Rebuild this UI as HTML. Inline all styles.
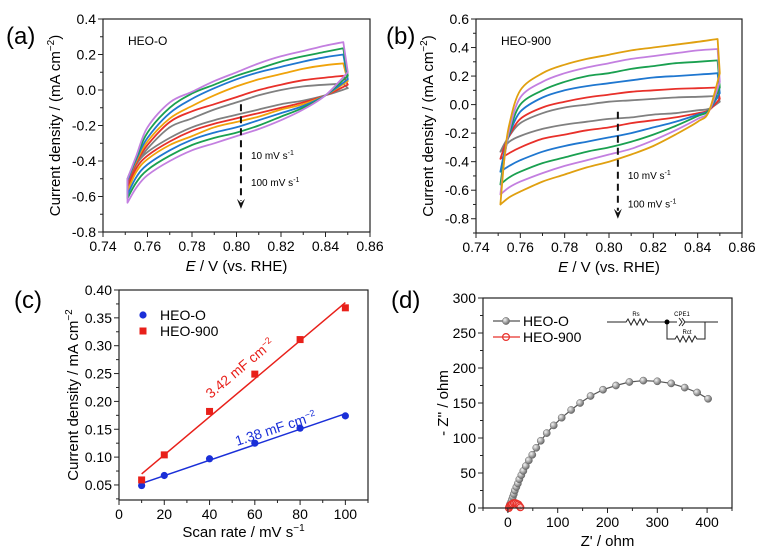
<!DOCTYPE html>
<html><head><meta charset="utf-8">
<style>
body{margin:0;background:#fff;}
svg{display:block;font-family:"Liberation Sans",Arial,sans-serif;}
</style></head>
<body>
<svg id="fig" width="761" height="554" viewBox="0 0 761 554" xmlns="http://www.w3.org/2000/svg"></svg>
<script>
// ---------- Panel (a) data ----------
const aColors = ['#808080','#e8302a','#f0a30a','#1f77d0','#1aa050','#c37fe0'];
const aUpE = [0.751,0.755,0.76,0.77,0.78,0.79,0.80,0.81,0.82,0.83,0.84,0.848];
const aUp0 = [-0.52,-0.42,-0.33,-0.21,-0.16,-0.11,-0.07,-0.03,0.0,0.02,0.03,0.035];
const aUp1 = [-0.52,-0.41,-0.31,-0.18,-0.12,-0.08,-0.04,0.0,0.03,0.055,0.07,0.08];
const aUp2 = [-0.51,-0.40,-0.29,-0.16,-0.09,-0.03,0.02,0.06,0.09,0.12,0.14,0.15];
const aUp3 = [-0.51,-0.39,-0.27,-0.13,-0.05,0.01,0.06,0.10,0.13,0.16,0.185,0.20];
const aUp4 = [-0.50,-0.38,-0.24,-0.10,-0.02,0.03,0.08,0.12,0.16,0.19,0.215,0.235];
const aUp5 = [-0.50,-0.37,-0.21,-0.07,-0.01,0.05,0.10,0.15,0.19,0.22,0.25,0.27];
const aLoE = [0.85,0.84,0.83,0.82,0.81,0.80,0.79,0.78,0.77,0.76,0.755,0.751];
const aLo0 = [0.01,-0.03,-0.06,-0.08,-0.11,-0.14,-0.17,-0.21,-0.27,-0.35,-0.42,-0.53];
const aLo1 = [0.03,-0.03,-0.07,-0.10,-0.13,-0.16,-0.19,-0.23,-0.29,-0.37,-0.44,-0.55];
const aLo2 = [0.05,-0.03,-0.08,-0.11,-0.15,-0.18,-0.21,-0.26,-0.31,-0.39,-0.46,-0.57];
const aLo3 = [0.06,-0.03,-0.09,-0.13,-0.17,-0.21,-0.24,-0.28,-0.34,-0.42,-0.49,-0.59];
const aLo4 = [0.08,-0.03,-0.10,-0.15,-0.20,-0.24,-0.27,-0.31,-0.37,-0.45,-0.52,-0.61];
const aLo5 = [0.10,-0.03,-0.11,-0.17,-0.22,-0.26,-0.30,-0.34,-0.40,-0.48,-0.55,-0.635];
const aYTicks = ['0.4','0.2','0.0','-0.2','-0.4','-0.6','-0.8'];
const cvXTicks = ['0.74','0.76','0.78','0.80','0.82','0.84','0.86'];
// ---------- Panel (b) data ----------
const bColors = ['#808080','#e8302a','#1f77d0','#1aa050','#c37fe0','#e0a010'];
const bUpE = [0.751,0.753,0.755,0.76,0.77,0.78,0.79,0.80,0.81,0.82,0.83,0.84,0.849];
const bUp0 = [-0.33,-0.27,-0.22,-0.13,-0.06,-0.02,0.0,0.02,0.03,0.04,0.05,0.055,0.06];
const bUp1 = [-0.38,-0.29,-0.22,-0.10,-0.02,0.02,0.05,0.07,0.09,0.10,0.11,0.115,0.12];
const bUp2 = [-0.47,-0.32,-0.21,-0.05,0.05,0.10,0.13,0.15,0.17,0.19,0.20,0.21,0.22];
const bUp3 = [-0.56,-0.35,-0.20,0.0,0.10,0.16,0.20,0.22,0.25,0.27,0.29,0.30,0.31];
const bUp4 = [-0.63,-0.36,-0.18,0.05,0.16,0.22,0.26,0.29,0.32,0.34,0.36,0.38,0.39];
const bUp5 = [-0.70,-0.35,-0.14,0.10,0.22,0.28,0.32,0.35,0.38,0.40,0.42,0.44,0.46];
const bLoE = [0.85,0.845,0.84,0.83,0.82,0.81,0.80,0.79,0.78,0.77,0.76,0.755,0.751];
const bLo0 = [0.02,-0.03,-0.04,-0.06,-0.07,-0.09,-0.10,-0.12,-0.14,-0.17,-0.22,-0.26,-0.33];
const bLo1 = [0.04,-0.04,-0.06,-0.09,-0.11,-0.13,-0.16,-0.18,-0.21,-0.24,-0.30,-0.34,-0.38];
const bLo2 = [0.08,-0.04,-0.07,-0.12,-0.16,-0.20,-0.23,-0.26,-0.29,-0.33,-0.39,-0.43,-0.47];
const bLo3 = [0.12,-0.04,-0.08,-0.15,-0.21,-0.26,-0.30,-0.33,-0.37,-0.41,-0.47,-0.51,-0.56];
const bLo4 = [0.16,-0.05,-0.10,-0.18,-0.25,-0.31,-0.35,-0.39,-0.43,-0.48,-0.54,-0.58,-0.63];
const bLo5 = [0.22,-0.05,-0.12,-0.21,-0.29,-0.35,-0.40,-0.44,-0.49,-0.54,-0.61,-0.65,-0.70];
const bYTicks = ['0.6','0.4','0.2','0.0','-0.2','-0.4','-0.6','-0.8'];
// ---------- Panel (c) data ----------
const cRates = [10,20,40,60,80,100];
const cHEOO = [0.049,0.067,0.097,0.125,0.152,0.174];
const cHEO900 = [0.059,0.104,0.182,0.249,0.311,0.368];
const cYTicks = ['0.40','0.35','0.30','0.25','0.20','0.15','0.10','0.05'];
const cXTicks = ['0','20','40','60','80','100'];
// ---------- Panel (d) data ----------
const dOx = [3,4,6,8,10,12,14,17,20,23,27,31,36,42,49,57,66,78,92,108,127,145,166,191,217,244,272,300,328,355,380,402];
const dOy = [2,5,8,12,16,20,25,30,35,41,47,53,60,68,76,86,96,107,118,129,140,150,160,169,175,180,182,181,178,172,165,156];
const d9x = [2,3,5,7,9,12,15,18,21,23,25];
const d9y = [0,2,4,5,6,7,7,6,5,3,1];
const dYTicks = ['0','50','100','150','200','250','300'];
const dXTicks = ['0','100','200','300','400'];

const NS='http://www.w3.org/2000/svg';
const svg=document.getElementById('fig');
function mk(tag,attrs,parent){const e=document.createElementNS(NS,tag);for(const k in attrs)e.setAttribute(k,attrs[k]);(parent||svg).appendChild(e);return e;}
function txt(s,x,y,size,anchor,parent,fill){const t=mk('text',{x:x,y:y,'font-size':size,'text-anchor':anchor||'start',fill:fill||'#000'},parent);t.textContent=s;return t;}
function lin(d0,d1,p0,p1){return v=>p0+(v-d0)/(d1-d0)*(p1-p0);}
function smooth(pts){
  let d='M'+pts[0][0].toFixed(1)+','+pts[0][1].toFixed(1);
  for(let i=0;i<pts.length-1;i++){
    const p0=pts[Math.max(0,i-1)],p1=pts[i],p2=pts[i+1],p3=pts[Math.min(pts.length-1,i+2)];
    const c1=[p1[0]+(p2[0]-p0[0])/6,p1[1]+(p2[1]-p0[1])/6],c2=[p2[0]-(p3[0]-p1[0])/6,p2[1]-(p3[1]-p1[1])/6];
    d+=`C${c1[0].toFixed(1)},${c1[1].toFixed(1)} ${c2[0].toFixed(1)},${c2[1].toFixed(1)} ${p2[0].toFixed(1)},${p2[1].toFixed(1)}`;
  }
  return d;
}

function frame(g,L,T,R,B){
  const r=mk('rect',{x:L,y:T,width:R-L,height:B-T,fill:'none',stroke:'#222','stroke-width':1.2},g);
  
}
function yTicks(g,labels,sy,T,B,L,minor){
  labels.forEach(s=>{const v=parseFloat(s),y=sy(v);
    const t=mk('line',{x1:L-5,x2:L,y1:y,y2:y,stroke:'#222','stroke-width':1},g);
    
    const l=txt(s,L-7,y+5,14,'end',g);
    const ym=sy(v-minor);if(ym<=B+0.5&&ym>=T-0.5)mk('line',{x1:L-3,x2:L,y1:ym,y2:ym,stroke:'#222','stroke-width':1},g);
  });
}
function xTicks(g,labels,sx,L,R,B,minor,labY){
  labels.forEach(s=>{const v=parseFloat(s),x=sx(v);
    const t=mk('line',{x1:x,x2:x,y1:B,y2:B+5,stroke:'#222','stroke-width':1},g);
    
    const l=txt(s,x,labY,14,'middle',g);
    const xm=sx(v+minor);if(xm<=R+0.5&&xm>=L-0.5)mk('line',{x1:xm,x2:xm,y1:B,y2:B+3,stroke:'#222','stroke-width':1},g);
  });
}
function cvPanel(id,L,T,R,B,y0,y1,yLabels,colors,upE,ups,loE,los,name,arrowX,arrTop,arrBot,t1,t2){
  const g=mk('g',{});  
  const sx=lin(0.74,0.86,L,R), sy=lin(y0,y1,T,B);
  colors.forEach((c,i)=>{
    const up=upE.map((e,j)=>[sx(e),sy(ups[i][j])]);
    const lo=loE.map((e,j)=>[sx(e),sy(los[i][j])]);
    let d=smooth(up)+'L'+lo[0][0].toFixed(1)+','+lo[0][1].toFixed(1)+smooth(lo).replace(/^M[^C]*/,'')+'Z';
    const p=mk('path',{d:d,fill:'none',stroke:c,'stroke-width':1.8,'stroke-linejoin':'round'},g);
    
  });
  frame(g,L,T,R,B);
  yTicks(g,yLabels,sy,T,B,L,0.1);
  xTicks(g,cvXTicks,sx,L,R,B,0.01,B+19);
  const ax=sx(arrowX);
  const ar=mk('line',{x1:ax,x2:ax,y1:sy(arrTop),y2:sy(arrBot)-8,stroke:'#111','stroke-width':2,'stroke-dasharray':'7,5'},g);
  
  mk('path',{d:`M${ax-4},${sy(arrBot)-10} L${ax},${sy(arrBot)} L${ax+4},${sy(arrBot)-10} L${ax},${sy(arrBot)-6}Z`,fill:'#111'},g);
  const a1=txt('',ax+10,sy(t1),10,'start',g);a1.innerHTML='10 mV s<tspan dy="-4" font-size="7">-1</tspan>';
  
  const a2=txt('',ax+10,sy(t2),10,'start',g);a2.innerHTML='100 mV s<tspan dy="-4" font-size="7">-1</tspan>';
  
  const nm=txt(name,L+25,T+26,12,'start',g);
  const xt=txt('',(L+R)/2,B+39,15,'middle',g);xt.innerHTML='<tspan font-style="italic">E</tspan> / V (vs. RHE)';
  
  const yt=txt('',0,0,15,'middle',g);yt.setAttribute('transform',`translate(${L-43},${(T+B)/2}) rotate(-90)`);
  yt.innerHTML='Current density / (mA cm<tspan dy="-6" font-size="10">−2</tspan><tspan dy="6">)</tspan>';
  
}
cvPanel('panel-a',103,19,370,232,0.4,-0.8,aYTicks,aColors,aUpE,[aUp0,aUp1,aUp2,aUp3,aUp4,aUp5],aLoE,[aLo0,aLo1,aLo2,aLo3,aLo4,aLo5],'HEO-O',0.802,-0.08,-0.67,-0.39,-0.54);
cvPanel('panel-b',476,19,742,233,0.6,-0.9,bYTicks,bColors,bUpE,[bUp0,bUp1,bUp2,bUp3,bUp4,bUp5],bLoE,[bLo0,bLo1,bLo2,bLo3,bLo4,bLo5],'HEO-900',0.804,-0.05,-0.80,-0.52,-0.72);

// panel labels
[['(a)',6,44],['(b)',386,44],['(c)',14,308],['(d)',391,308]].forEach(p=>{const t=txt(p[0],p[1],p[2],24,'start');});

// ---------- Panel (c) ----------
(function(){
  const L=119,T=290,R=368,B=500;
  const g=mk('g',{});
  const sx=lin(0,110,L,R), sy=lin(0.40,0.023,T,B);
  function fit(xs,ys){const n=xs.length,mx=xs.reduce((a,b)=>a+b)/n,my=ys.reduce((a,b)=>a+b)/n;let sxy=0,sxx=0;xs.forEach((x,i)=>{sxy+=(x-mx)*(ys[i]-my);sxx+=(x-mx)**2;});const m=sxy/sxx;return [m,my-m*mx];}
  [[cHEOO,'#1a2fd8','heo-o'],[cHEO900,'#e8201a','heo-900']].forEach(s=>{
    const f=fit(cRates,s[0]);
    const l=mk('line',{x1:sx(10),y1:sy(f[1]+f[0]*10),x2:sx(100),y2:sy(f[1]+f[0]*100),stroke:s[1],'stroke-width':1.5},g);
    
    cRates.forEach((x,i)=>{
      let m;
      if(s[2]==='heo-o'){m=mk('circle',{cx:sx(x),cy:sy(s[0][i]),r:3.6,fill:s[1]},g);}
      else{m=mk('rect',{x:sx(x)-3.5,y:sy(s[0][i])-3.5,width:7,height:7,fill:s[1]},g);}
      
    });
  });
  frame(g,L,T,R,B);
  yTicks(g,cYTicks,sy,T,B,L,0.025);
  xTicks(g,cXTicks,sx,L,R,B,10,B+19);
  const r1=txt('',0,0,14,'middle',g,'#e8201a');r1.setAttribute('transform','translate(243,372) rotate(-40)');
  r1.innerHTML='3.42 mF cm<tspan dy="-5" font-size="9">−2</tspan>';
  const b1=txt('',0,0,14,'middle',g,'#1a2fd8');b1.setAttribute('transform','translate(277,433) rotate(-18)');
  b1.innerHTML='1.38 mF cm<tspan dy="-5" font-size="9">−2</tspan>';
  mk('circle',{cx:143,cy:315,r:3.6,fill:'#1a2fd8'},g);
  const lg1=txt('HEO-O',160,320,14,'start',g);
  mk('rect',{x:139.5,y:327.5,width:7,height:7,fill:'#e8201a'},g);
  const lg2=txt('HEO-900',160,336,14,'start',g);
  const xt=txt('',(L+R)/2,B+37,15,'middle',g);xt.innerHTML='Scan rate / mV s<tspan dy="-6" font-size="10">−1</tspan>';
  
  const yt=txt('',0,0,15,'middle',g);yt.setAttribute('transform',`translate(78,${(T+B)/2}) rotate(-90)`);
  yt.innerHTML='Current density / mA cm<tspan dy="-6" font-size="10">−2</tspan>';
  
})();

// ---------- Panel (d) ----------
(function(){
  const L=483,T=298,R=732,B=508;
  const g=mk('g',{});
  const sx=lin(-50,450,L,R), sy=lin(300,0,T,B);
  const defs=mk('defs',{},g);
  const grad=mk('radialGradient',{id:'sph',cx:'35%',cy:'35%',r:'65%'},defs);
  mk('stop',{offset:'0%','stop-color':'#f4f4f4'},grad);mk('stop',{offset:'100%','stop-color':'#6a6a6a'},grad);
  let d='';dOx.forEach((x,i)=>{d+=(i?'L':'M')+sx(x).toFixed(1)+','+sy(dOy[i]).toFixed(1);});
  const p=mk('path',{d:d,fill:'none',stroke:'#555','stroke-width':1.2},g);
  dOx.forEach((x,i)=>{const c=mk('circle',{cx:sx(x),cy:sy(dOy[i]),r:3.6,fill:'url(#sph)',stroke:'#666','stroke-width':0.5},g);});
  let d2='';d9x.forEach((x,i)=>{d2+=(i?'L':'M')+sx(x).toFixed(1)+','+sy(d9y[i]).toFixed(1);});
  const p2=mk('path',{d:d2,fill:'none',stroke:'#e8302a','stroke-width':1.2},g);
  d9x.forEach((x,i)=>{const c=mk('circle',{cx:sx(x),cy:sy(d9y[i]),r:3.4,fill:'#fff','fill-opacity':0.3,stroke:'#e8302a','stroke-width':1.2},g);});
  frame(g,L,T,R,B);
  yTicks(g,dYTicks,sy,T,B,L,25);
  xTicks(g,dXTicks,sx,L,R,B,50,B+19);
  mk('line',{x1:sx(-50),x2:sx(-50),y1:B,y2:B+3,stroke:'#222'},g);
  // legend
  mk('line',{x1:493,x2:520,y1:321,y2:321,stroke:'#555','stroke-width':1.2},g);
  mk('circle',{cx:506,cy:321,r:3.6,fill:'url(#sph)',stroke:'#666','stroke-width':0.5},g);
  const l1=txt('HEO-O',523,326,14,'start',g);
  mk('line',{x1:493,x2:520,y1:337,y2:337,stroke:'#e8302a','stroke-width':1.2},g);
  mk('circle',{cx:506,cy:337,r:3.4,fill:'none',stroke:'#e8302a','stroke-width':1.2},g);
  const l2=txt('HEO-900',523,342,14,'start',g);
  // circuit
  const cg=mk('g',{fill:'none',stroke:'#222','stroke-width':1},g);
  mk('path',{d:'M607,322 L626,322 l2,-3 l3,6 l3,-6 l3,6 l3,-6 l3,6 l3,-6 l2,3 L677,322 M679,318 l3,4 l-3,4 M682,318 l3,4 l-3,4 M685,322 L718,322 M667,322 L667,339 L675,339 l2,-3 l3,6 l3,-6 l3,6 l3,-6 l3,6 l3,-6 l2,3 L705,339 L705,322'},cg);
  mk('circle',{cx:667,cy:322,r:2.5,fill:'#000'},g);
  txt('Rs',636,316,6,'middle',g);txt('CPE1',682,316,6,'middle',g);txt('Rct',687,334,6,'middle',g);
  const xt=txt("Z' / ohm",(L+R)/2,B+38,15,'middle',g);
  const yt=txt("- Z'' / ohm",0,0,15,'middle',g);yt.setAttribute('transform',`translate(448,${(T+B)/2}) rotate(-90)`);
  
})();
</script>
</body></html>
